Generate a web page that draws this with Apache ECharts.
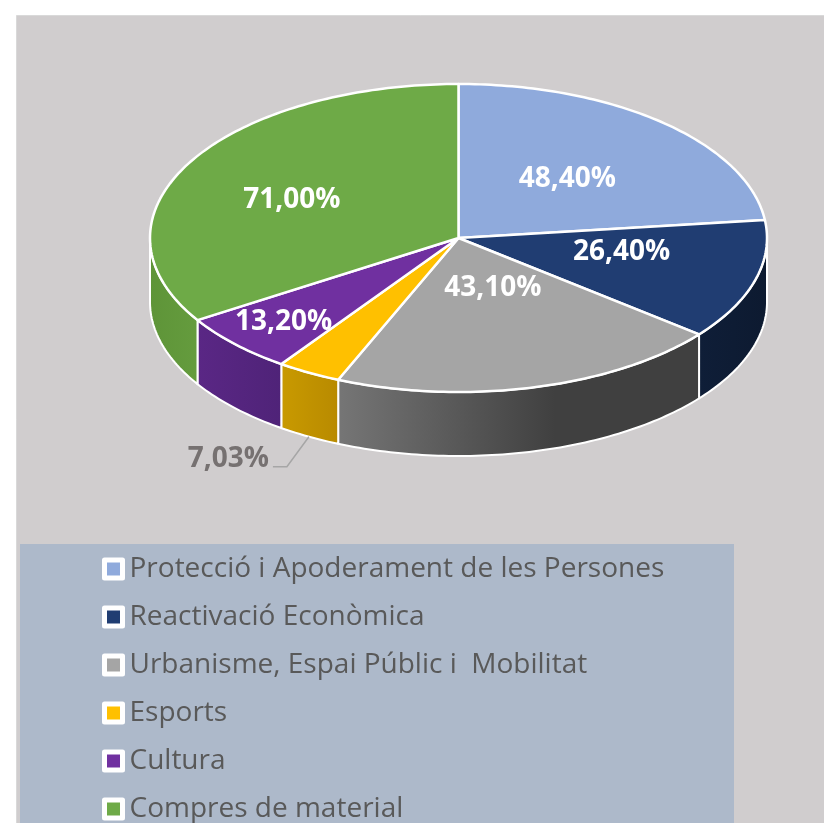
<!DOCTYPE html>
<html>
<head>
<meta charset="utf-8">
<style>html,body{margin:0;padding:0;background:#fff}#main{width:824px;height:823px}</style>
<script src="https://cdn.jsdelivr.net/npm/echarts@6/dist/echarts.min.js"></script>
</head>
<body>
<div id="main"></div>
<script>
// data
const categories = [
    'Protecció i Apoderament de les Persones',
    'Reactivació Econòmica',
    'Urbanisme, Espai Públic i  Mobilitat',
    'Esports',
    'Cultura',
    'Compres de material'
];
const values = [48.40, 26.40, 43.10, 7.03, 13.20, 71.00];
const valueLabels = ['48,40%', '26,40%', '43,10%', '7,03%', '13,20%', '71,00%'];

// look of the slices
const topColors = ['#8FAADC', '#203D72', '#A5A5A5', '#FFC000', '#7030A0', '#6EAA47'];
const wallColors = [
    ['#6F8AB8', '#6F8AB8'],
    ['#0F1E38', '#0D1A30'],
    ['#767676', '#404040'],
    ['#C99A00', '#B88A00'],
    ['#5A2785', '#4F2378'],
    ['#5E9438', '#659C3E']
];
// label nudge from the point at 55% of the radius, null = outside with leader line
const labelNudge = [[-4, 4], [0, -9], [-7, -32], null, [-52, 26], [-18, 3]];

const cx = 458.5, cy = 238, rx = 308.5, ry = 154, depth = 64;
const fontName = '"Open Sans", sans-serif';
const total = values.reduce((a, b) => a + b, 0);

function rimPoint(deg, k, drop) {
    const a = deg * Math.PI / 180;
    return [cx + rx * k * Math.sin(a), cy - ry * k * Math.cos(a) + (drop || 0)];
}
function arcPoints(from, to, drop) {
    const pts = [];
    for (let d = from; d < to; d += 1) pts.push(rimPoint(d, 1, drop));
    pts.push(rimPoint(to, 1, drop));
    return pts;
}

function renderSlice(params) {
    const i = params.seriesIndex;
    const before = values.slice(0, i).reduce((a, b) => a + b, 0);
    const start = before / total * 360;
    const end = (before + values[i]) / total * 360;
    const mid = (start + end) / 2;
    const children = [];

    // side wall, only the part that faces us
    const wallFrom = Math.max(start, 90), wallTo = Math.min(end, 270);
    if (wallTo > wallFrom) {
        children.push({
            type: 'polygon',
            shape: { points: arcPoints(wallFrom, wallTo, 0).concat(arcPoints(wallFrom, wallTo, depth).reverse()) },
            style: {
                fill: new echarts.graphic.LinearGradient(0, 0, 1, 0, [
                    { offset: 0, color: wallColors[i][0] },
                    { offset: i === 2 ? 0.6 : 1, color: wallColors[i][1] },
                    { offset: 1, color: wallColors[i][1] }
                ]),
                stroke: '#fff', lineWidth: 2, lineJoin: 'round'
            }
        });
    }
    // top face
    children.push({
        type: 'polygon',
        shape: { points: [[cx, cy]].concat(arcPoints(start, end, 0)) },
        style: { fill: topColors[i], stroke: '#fff', lineWidth: 2.5, lineJoin: 'round' }
    });

    const nudge = labelNudge[i];
    if (nudge) {
        const p = rimPoint(mid, 0.55);
        children.push({
            type: 'text', z2: 20,
            style: {
                x: p[0] + nudge[0], y: p[1] + nudge[1], text: valueLabels[i],
                fill: '#fff', font: 'bold 28px ' + fontName, align: 'center', verticalAlign: 'middle'
            }
        });
    } else {
        const e = rimPoint(mid, 1, depth);
        const elbow = [e[0] - 22, e[1] + 30];
        children.push({
            type: 'polyline',
            shape: { points: [[elbow[0] - 14, elbow[1]], elbow, e] },
            style: { fill: null, stroke: '#A6A6A6', lineWidth: 1.5 }
        });
        children.push({
            type: 'text', z2: 20,
            style: {
                x: elbow[0] - 18, y: elbow[1] - 8, text: valueLabels[i],
                fill: '#767171', font: 'bold 28px ' + fontName, align: 'right', verticalAlign: 'middle'
            }
        });
    }
    return { type: 'group', children: children };
}

const Chart = echarts.init(document.getElementById('main'), null, { renderer: 'canvas' });

Chart.setOption({
    animation: false,
    backgroundColor: '#fff',
    graphic: [
        { type: 'rect', shape: { x: 16.5, y: 15.5, width: 820, height: 820 },
          style: { fill: '#D0CDCE', stroke: '#D9D9D9', lineWidth: 1 }, silent: true },
        { type: 'rect', shape: { x: 20, y: 544, width: 714, height: 279 },
          style: { fill: '#ADB9CA' }, silent: true }
    ],
    legend: {
        orient: 'vertical',
        left: 102,
        top: 555,
        padding: 0,
        itemWidth: 18,
        itemHeight: 18,
        itemGap: 20,
        selectedMode: false,
        textStyle: {
            fontFamily: fontName, fontSize: 28, color: '#595959',
            padding: [0, 0, 0, 2]
        },
        data: categories.map((name, i) => ({
            name: name,
            icon: 'rect',
            itemStyle: { color: topColors[i], borderColor: '#fff', borderWidth: 5, borderJoin: 'round' }
        }))
    },
    series: categories.map((name, i) => ({
        type: 'custom',
        name: name,
        coordinateSystem: 'none',
        silent: true,
        itemStyle: { color: topColors[i] },
        renderItem: renderSlice,
        data: [values[i]]
    }))
});
</script>
</body>
</html>
